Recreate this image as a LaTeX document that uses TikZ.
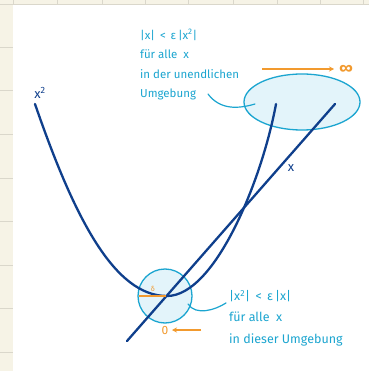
\documentclass[tikz,border=0pt]{standalone}
\usepackage{fontspec}
\setmainfont{Fira Sans}
\usetikzlibrary{arrows.meta,shapes.geometric}
\definecolor{navy}{HTML}{0F3F8C}
\definecolor{cyanb}{HTML}{1BA5D0}
\definecolor{cyanf}{HTML}{E3F4FA}
\definecolor{orng}{HTML}{F29A2E}
\definecolor{cream}{HTML}{F6F3E6}
\definecolor{gridc}{HTML}{DAD7CB}
\tikzset{
  curve/.style={navy, line width=2.3pt, line cap=round},
  nbhd/.style={draw=cyanb, fill=cyanf, line width=1.3pt},
  conn/.style={cyanb, line width=1.2pt, line cap=round},
  otext/.style={cyanb, font=\fontsize{11.5}{19.5}\selectfont, align=left, inner sep=0pt},
  oarrow/.style={orng, line width=1.6pt, -{Stealth[length=5pt,width=5pt]}},
  olabel/.style={orng, font=\fontsize{11}{12}\selectfont, inner sep=0pt},
  nlabel/.style={navy, font=\fontsize{13}{13}\selectfont, inner sep=0pt},
}
\begin{document}
\begin{tikzpicture}[x=1pt,y=-1pt]
\useasboundingbox (0,0) rectangle (369,371);
% background
\fill[cream] (0,0) rectangle (369,371);
\foreach \y in {47,90,134,178,221,265,308,352} \draw[gridc, line width=0.8pt] (0,\y) -- (13,\y);
\foreach \x in {57,102,145,188,233,277,320,363} \draw[gridc, line width=0.8pt] (\x,0) -- (\x,5);
\draw[gridc, line width=0.8pt] (0,4) -- (369,4);
\draw[gridc, line width=0.8pt] (13,0) -- (13,5);
\fill[white] (13,5) rectangle (369,371);
% neighbourhoods
\node[nbhd, ellipse, minimum width=116pt, minimum height=56pt, inner sep=0pt] (big) at (302,102) {};
\node[nbhd, circle, minimum size=54pt, inner sep=0pt] (small) at (165,296) {};
% curves
\coordinate (pl) at (35,104);
\coordinate (pm) at (167,296);
\coordinate (pr) at (276,104);
\draw[curve] (pl) .. controls (75,220) and (115,296) .. (pm) .. controls (215,296) and (262,180) .. (pr);
\coordinate (la) at (127,341);
\coordinate (lb) at (335,104);
\draw[curve] (la) -- (lb);
\node[nlabel] (x2) at (40,93) {x\textsuperscript{2}};
\node[nlabel] (xl) at (291,168) {x};
% delta
\coordinate (d0) at (139,296);
\coordinate (d1) at (166,296);
\draw[orng, line width=1.5pt] (d0) -- (d1);
\node[olabel, font=\fontsize{7}{8}\selectfont] (delta) at (153,289) {δ};
% texts
\node[otext, anchor=north west] (ttop) at (140,29) {|x|\, < \,ε\,|x\textsuperscript{2}|\\für alle \ x\\in der unendlichen\\Umgebung};
\node[otext, anchor=north west, font=\fontsize{12.5}{21.5}\selectfont] (tbot) at (229,290) {|x\textsuperscript{2}|\, < \,ε\,|x|\\für alle \ x\\in dieser Umgebung};
% connectors
\coordinate (c1) at (208,94);
\coordinate (c2) at (255,104);
\draw[conn] (c1) .. controls (220,110) and (238,109) .. (c2);
\coordinate (c3) at (188,304);
\coordinate (c4) at (226,303);
\draw[conn] (c3) .. controls (196,316) and (215,310) .. (c4);
% orange arrows
\coordinate (a1) at (262,69);
\coordinate (a2) at (334,69);
\draw[oarrow] (a1) -- (a2);
\node[olabel, font=\fontsize{15}{15}\selectfont\bfseries] (inf) at (346,69) {∞};
\node[olabel, font=\fontsize{12}{12}\selectfont] (zero) at (165,330) {0};
\coordinate (b1) at (201,330);
\coordinate (b2) at (172,330);
\draw[oarrow] (b1) -- (b2);
\end{tikzpicture}
\end{document}
